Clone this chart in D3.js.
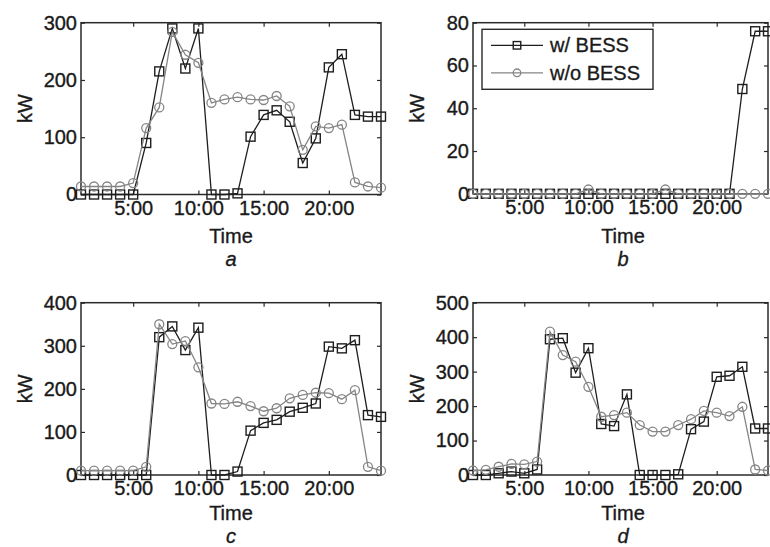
<!DOCTYPE html>
<html>
<head>
<meta charset="utf-8">
<script src="https://cdn.jsdelivr.net/npm/d3@7"></script>
<style>
  html, body { margin: 0; padding: 0; background: #fff; }
  svg { display: block; }
  text { font-family: "Liberation Sans", Arial, sans-serif; fill: #1a1a1a; stroke: #1a1a1a; stroke-width: 0.35px; }
</style>
</head>
<body>
<svg id="chart" width="770" height="547"></svg>
<script>
// ---------------- DATA ----------------
const hours = [1,2,3,4,5,6,7,8,9,10,11,12,13,14,15,16,17,18,19,20,21,22,23,24];
const xTickValues = [5, 10, 15, 20];
const xTickLabels = ["5:00", "10:00", "15:00", "20:00"];
const seriesNames = ["w/ BESS", "w/o BESS"];
const panelLetters = ["a", "b", "c", "d"];

const aWith    = [0,0,0,0,0,90,215,290,220,290,0,0,2,101,139,147,127,55,98,222,245,139,136,136];
const aWithout = [14,14,14,14,20,116,152,284,244,230,160,166,170,166,165,172,154,78,119,116,122,21,14,12];

const bWith    = [0,0,0,0,0,0,0,0,0,0,0,0,0,0,0,0,0,0,0,0,0,49,76,76];
const bWithout = [0,0,0,0,0,0,0,0,0,2,0,0,0,0,0,2,0,0,0,0,0,0,0,0];

const cWith    = [0,0,0,0,0,0,320,345,290,342,0,0,8,103,121,128,147,156,166,298,294,313,139,135];
const cWithout = [10,10,10,10,10,19,350,304,311,250,166,165,170,160,148,155,178,186,191,190,176,197,19,10];

const dWith    = [0,0,5,10,5,16,394,397,297,368,148,142,234,0,0,0,2,133,155,285,288,314,135,135];
const dWithout = [13,15,24,32,31,39,416,348,329,256,169,174,181,145,126,126,145,162,186,181,171,198,16,13];

const yTicksA = [0, 100, 200, 300];
const yTicksB = [0, 20, 40, 60, 80];
const yTicksC = [0, 100, 200, 300, 400];
const yTicksD = [0, 100, 200, 300, 400, 500];

// ---------------- LAYOUT ----------------
const panels = [
  { withS: aWith, withoutS: aWithout, yTicks: yTicksA, letter: panelLetters[0], x0: 81,  x1: 381, y0: 22.7,  y1: 194.5, legend: false, timeDy: 48.5, letterY: 265.5 },
  { withS: bWith, withoutS: bWithout, yTicks: yTicksB, letter: panelLetters[1], x0: 473, x1: 768, y0: 22.7,  y1: 193.8, legend: true,  timeDy: 49.2, letterY: 265.5 },
  { withS: cWith, withoutS: cWithout, yTicks: yTicksC, letter: panelLetters[2], x0: 81,  x1: 381, y0: 302.7, y1: 475,   legend: false, timeDy: 45,   letterY: 542.6 },
  { withS: dWith, withoutS: dWithout, yTicks: yTicksD, letter: panelLetters[3], x0: 473, x1: 768, y0: 302.7, y1: 475,   legend: false, timeDy: 45,   letterY: 542.6 }
];

const FONT = 20;
const frameColor = "#2a2a2a";
const withColor = "#1e1e1e";
const withoutColor = "#858585";
const sqSize = 9;
const circR = 4.5;

const svg = d3.select("#chart");
svg.append("rect").attr("width", 770).attr("height", 547).attr("fill", "#fff");

function drawSquare(g, x, y, s, color, sw) {
  g.append("rect")
    .attr("x", x - s / 2).attr("y", y - s / 2)
    .attr("width", s).attr("height", s)
    .attr("fill", "none").attr("stroke", color).attr("stroke-width", sw);
}
function drawCircle(g, x, y, r, color, sw) {
  g.append("circle")
    .attr("cx", x).attr("cy", y).attr("r", r)
    .attr("fill", "none").attr("stroke", color).attr("stroke-width", sw);
}

panels.forEach(p => {
  const x = d3.scaleLinear().domain([1, 24]).range([p.x0, p.x1]);
  const yMax = p.yTicks[p.yTicks.length - 1];
  const y = d3.scaleLinear().domain([0, yMax]).range([p.y1, p.y0]);
  const g = svg.append("g");

  // frame
  g.append("rect")
    .attr("x", p.x0).attr("y", p.y0)
    .attr("width", p.x1 - p.x0).attr("height", p.y1 - p.y0)
    .attr("fill", "none").attr("stroke", frameColor).attr("stroke-width", 1.5);

  // axes
  const fmtX = (d) => xTickLabels[xTickValues.indexOf(d)];
  const bottom = g.append("g").attr("transform", `translate(0,${p.y1})`)
    .call(d3.axisBottom(x).tickValues(xTickValues).tickFormat(fmtX).tickSizeInner(-4).tickSizeOuter(0).tickPadding(6));
  const top = g.append("g").attr("transform", `translate(0,${p.y0})`)
    .call(d3.axisTop(x).tickValues(xTickValues).tickFormat("").tickSizeInner(-4).tickSizeOuter(0));
  const left = g.append("g").attr("transform", `translate(${p.x0},0)`)
    .call(d3.axisLeft(y).tickValues(p.yTicks).tickSizeInner(-4).tickSizeOuter(0).tickPadding(4));
  const right = g.append("g").attr("transform", `translate(${p.x1},0)`)
    .call(d3.axisRight(y).tickValues(p.yTicks).tickFormat("").tickSizeInner(-4).tickSizeOuter(0));
  [bottom, top, left, right].forEach(ax => {
    ax.select(".domain").remove();
    ax.selectAll("line").attr("stroke", frameColor).attr("stroke-width", 1.2);
    ax.selectAll("text").attr("font-size", FONT).attr("font-family", "Liberation Sans, Arial, sans-serif")
      .attr("fill", "#1a1a1a").attr("stroke", "#1a1a1a").attr("stroke-width", 0.35);
  });

  // axis labels
  const cxA = (p.x0 + 381 - 81 + p.x0) / 2; // center of full-width panel
  g.append("text").attr("x", cxA).attr("y", p.y1 + p.timeDy)
    .attr("text-anchor", "middle").attr("font-size", FONT).text("Time");
  g.append("text").attr("x", cxA).attr("y", p.letterY)
    .attr("text-anchor", "middle").attr("font-size", FONT).attr("font-style", "italic").text(p.letter);
  g.append("text")
    .attr("transform", `translate(${p.x0 - 49},${(p.y0 + p.y1) / 2}) rotate(-90)`)
    .attr("text-anchor", "middle").attr("font-size", FONT).text("kW");

  // w/ BESS line + squares
  const line = d3.line().x((d, i) => x(hours[i])).y(d => y(d));
  g.append("path").datum(p.withS).attr("d", line)
    .attr("fill", "none").attr("stroke", withColor).attr("stroke-width", 1.3);
  p.withS.forEach((v, i) => drawSquare(g, x(hours[i]), y(v), sqSize, withColor, 1.4));

  // w/o BESS line + circles
  g.append("path").datum(p.withoutS).attr("d", line)
    .attr("fill", "none").attr("stroke", withoutColor).attr("stroke-width", 1.3);
  p.withoutS.forEach((v, i) => drawCircle(g, x(hours[i]), y(v), circR, withoutColor, 1.3));

  // legend
  if (p.legend) {
    const lg = g.append("g");
    const lx = 482, ly = 29.3, lw = 171, lh = 60;
    lg.append("rect").attr("x", lx).attr("y", ly).attr("width", lw).attr("height", lh)
      .attr("fill", "#fff").attr("stroke", frameColor).attr("stroke-width", 1.4);
    const rows = [
      { name: seriesNames[0], color: withColor, kind: "sq", yy: ly + 16 },
      { name: seriesNames[1], color: withoutColor, kind: "ci", yy: ly + 43.5 }
    ];
    rows.forEach(r => {
      lg.append("line").attr("x1", lx + 9).attr("x2", lx + 61).attr("y1", r.yy).attr("y2", r.yy)
        .attr("stroke", r.color).attr("stroke-width", 1.3);
      if (r.kind === "sq") drawSquare(lg, lx + 35, r.yy, 7.5, r.color, 1.4);
      else drawCircle(lg, lx + 35, r.yy, 3.8, r.color, 1.3);
      lg.append("text").attr("x", lx + 68).attr("y", r.yy + 7)
        .attr("font-size", FONT).text(r.name);
    });
  }
});
</script>
</body>
</html>
